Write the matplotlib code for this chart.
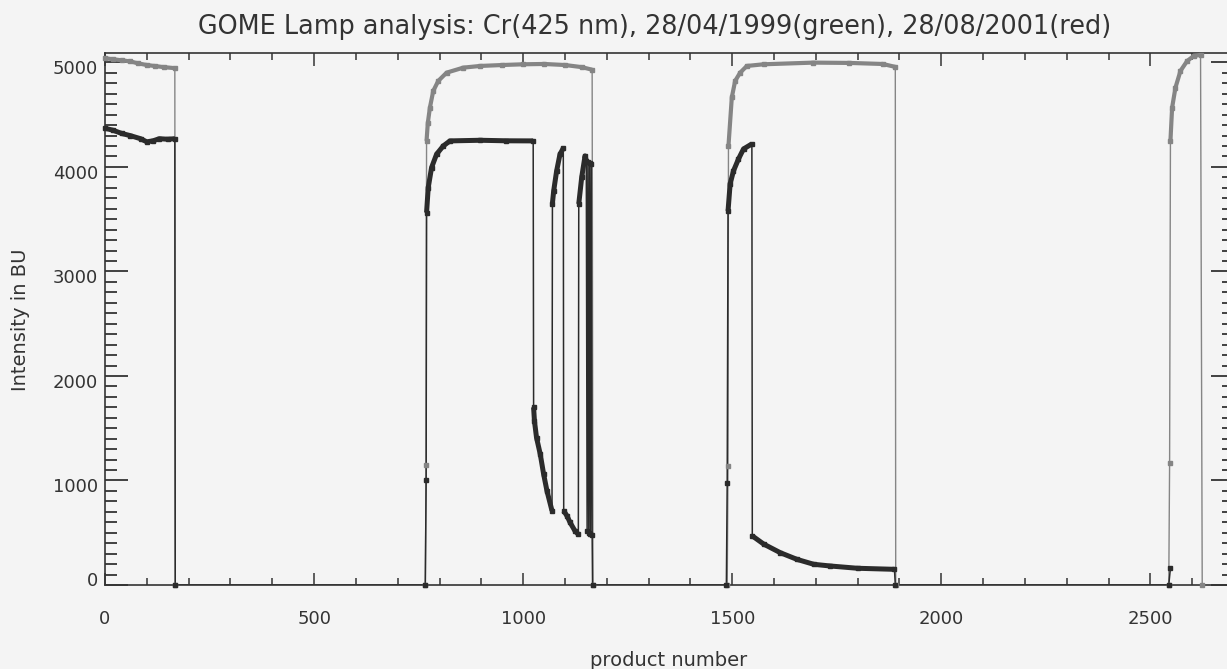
import numpy as np
import matplotlib
matplotlib.use("Agg")
import matplotlib.pyplot as plt
from matplotlib.ticker import MultipleLocator, FixedLocator
from matplotlib.transforms import ScaledTranslation

title = "GOME Lamp analysis: Cr(425 nm), 28/04/1999(green), 28/08/2001(red)"
xlabel = "product number"
ylabel = "Intensity in BU"
xticks = [0, 500, 1000, 1500, 2000, 2500]
yticks = [0, 1000, 2000, 3000, 4000, 5000]

# 28/04/1999 (green in original, rendered light grey in the scan)
green_x = [0, 20, 40, 60, 80, 100, 120, 140, 167, 168,
           766, 768, 769, 772, 777, 785, 797, 817, 857, 897, 950, 1000, 1050, 1100, 1140, 1165, 1167,
           1488, 1490, 1491, 1499, 1507, 1519, 1535, 1575, 1694, 1780, 1860, 1890, 1891,
           2544, 2546, 2548, 2552, 2560, 2572, 2588, 2604, 2620, 2624]
green_y = [5040, 5030, 5020, 5010, 4990, 4975, 4965, 4955, 4945, 0,
           0, 1150, 4250, 4420, 4567, 4727, 4823, 4902, 4950, 4966, 4975, 4982, 4985, 4975, 4955, 4930, 0,
           0, 1140, 4200, 4665, 4823, 4902, 4966, 4982, 4998, 4995, 4985, 4957, 0,
           0, 1167, 4250, 4567, 4759, 4919, 5014, 5062, 5072, 0]

# 28/08/2001 (red in original, rendered dark in the scan)
red_x = [0, 20, 40, 60, 85, 100, 115, 130, 150, 167, 168,
         766, 768, 769, 773, 781, 793, 809, 825, 897, 960, 1024,
         1025, 1027, 1032, 1041, 1049, 1057, 1069,
         1070, 1073, 1080, 1088, 1096,
         1097, 1105, 1112, 1124, 1132,
         1133, 1140, 1148, 1151, 1153, 1155, 1157, 1159, 1161, 1163, 1165, 1166,
         1486, 1488, 1490, 1495, 1503, 1515, 1527, 1547,
         1548, 1575, 1615, 1655, 1695, 1734, 1800, 1888, 1890,
         2544, 2548]
red_y = [4370, 4350, 4320, 4300, 4270, 4240, 4250, 4270, 4265, 4270, 0,
         0, 1000, 3563, 3802, 3994, 4122, 4201, 4249, 4255, 4250, 4249,
         1700, 1570, 1410, 1250, 1060, 900, 710,
         3650, 3770, 3960, 4120, 4180,
         710, 660, 600, 517, 485,
         3646, 3900, 4105, 4060, 520, 4050, 500, 4040, 490, 4030, 480, 0,
         0, 980, 3579, 3837, 3962, 4076, 4172, 4220,
         470, 392, 309, 245, 198, 182, 160, 150, 0,
         0, 163]

BG = "#f4f4f4"
GREEN_C = "#858585"
RED_C = "#2b2b2b"
AX_C = "#333333"


def dense_runs(x, y, max_step=1000):
    """Split a series into runs of consecutive non-zero points without big jumps."""
    runs, cur = [], []
    for xi, yi in zip(x, y):
        if yi > 0 and cur and abs(yi - cur[-1][1]) < max_step:
            cur.append((xi, yi))
        else:
            if len(cur) > 1:
                runs.append(cur)
            cur = [(xi, yi)] if yi > 0 else []
    if len(cur) > 1:
        runs.append(cur)
    return runs


fig = plt.figure(figsize=(12.27, 6.69), dpi=100, facecolor=BG)
W, H = 1227, 669
ax = fig.add_axes([105 / W, 84 / H, 1129 / W, 532 / H])
ax.set_facecolor(BG)

for xs, ys, c, lw_thin, lw_thick in [(green_x, green_y, GREEN_C, 1.0, 3.0),
                                      (red_x, red_y, RED_C, 1.1, 3.6)]:
    ax.plot(xs, ys, color=c, lw=lw_thin, zorder=2, clip_on=True)
    for run in dense_runs(xs, ys):
        rx, ry = zip(*run)
        ax.plot(rx, ry, color=c, lw=lw_thick, solid_capstyle="butt",
                solid_joinstyle="round", zorder=3)
    ax.plot(xs, ys, ls="none", marker="s", ms=3.2, color=c, zorder=4, clip_on=False)

ax.set_xlim(0, 2700)
ax.set_ylim(0, 5090)

ax.xaxis.set_major_locator(FixedLocator(xticks))
ax.xaxis.set_minor_locator(MultipleLocator(100))
ax.yaxis.set_major_locator(FixedLocator(yticks))
ax.yaxis.set_minor_locator(MultipleLocator(100))

ax.tick_params(which="both", direction="in", top=True, right=True,
               color=AX_C, labelcolor=AX_C)
ax.tick_params(axis="x", which="major", length=9, width=1.1, pad=18, labelsize=13)
ax.tick_params(axis="x", which="minor", length=5, width=1.1)
ax.tick_params(axis="y", which="major", length=16.5, width=1.3, pad=5, labelsize=13)
ax.tick_params(axis="y", which="minor", length=8.6, width=1.3)

fig.canvas.draw()
for lab, val in zip(ax.get_yticklabels(), yticks):
    dy = -5 / 100 if val > 0 else 6 / 100
    lab.set_transform(lab.get_transform() + ScaledTranslation(0, dy, fig.dpi_scale_trans))

for s in ax.spines.values():
    s.set_color(AX_C)
    s.set_linewidth(1.2)

fig.text(655 / W, 1 - 27 / H, title, ha="center", va="center", fontsize=18.4, color=AX_C)
fig.text(21 / W, 1 - 320 / H, ylabel, rotation=90, ha="center", va="center",
         fontsize=14, color=AX_C)
fig.text(669 / W, 1 - 660 / H, xlabel, ha="center", va="center", fontsize=14, color=AX_C)

fig.savefig("out.png", dpi=100, facecolor=BG)
